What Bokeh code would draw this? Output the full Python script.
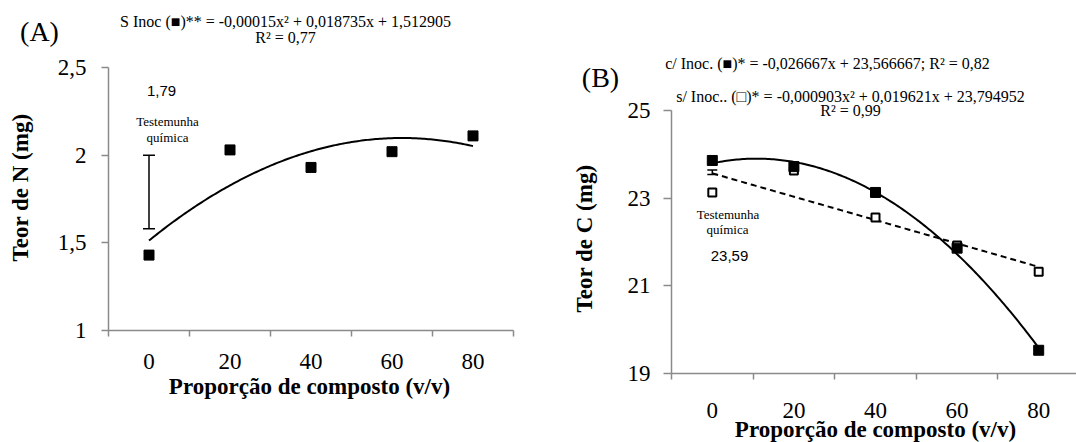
import numpy as np
from math import pi
from bokeh.plotting import figure
from bokeh.layouts import row
from bokeh.models import (Range1d, FixedTicker, CustomJSTickFormatter, Label,
                          Whisker, TeeHead, ColumnDataSource)
from bokeh.embed import file_html
from bokeh.resources import INLINE

# ---------------- data ----------------
doses = [0, 20, 40, 60, 80]
dose_labels = ["0", "20", "40", "60", "80"]

# Panel A - Teor de N (mg)
teor_N = [1.43, 2.03, 1.93, 2.02, 2.11]
testemunha_N = 1.79
testemunha_N_err = 0.21
coef_N = [-0.00015, 0.018735, 1.512905]          # quadratic trend (S Inoc)
yticks_A = [1, 1.5, 2, 2.5]

# Panel B - Teor de C (mg)
teor_C_sem = [23.13, 23.63, 22.56, 21.92, 21.32]  # open squares
teor_C_com = [23.86, 23.72, 23.13, 21.86, 19.53]  # filled squares
testemunha_C = 23.59
testemunha_C_err = 0.05
coef_C_quad = [-0.000903, 0.019621, 23.794952]
coef_C_lin = [-0.026667, 23.566667]
yticks_B = [19, 21, 23, 25]

eq_A = ["S Inoc (\u25A0)** = -0,00015x\u00B2 + 0,018735x + 1,512905", "R\u00B2 = 0,77"]
eq_B1 = "c/ Inoc. (\u25A0)* = -0,026667x + 23,566667; R\u00B2 = 0,82"
eq_B2 = ["s/ Inoc.. (\u25A1)* = -0,000903x\u00B2 + 0,019621x + 23,794952", "R\u00B2 = 0,99"]

SERIF = "Liberation Serif"
SANS = "Liberation Sans"
GREY = "#8a8a8a"

xs = np.linspace(doses[0], doses[-1], 161)
boundaries = [d - 10 for d in doses] + [doses[-1] + 10]


def style(p, yticks, xstand, ystand, ytick_out):
    p.xgrid.visible = False
    p.ygrid.visible = False
    p.outline_line_color = None
    for a in (p.xaxis[0], p.yaxis[0]):
        a.axis_line_color = GREY
        a.axis_line_width = 1.5
        a.major_tick_line_color = GREY
        a.major_tick_line_width = 1.5
        a.minor_tick_line_color = GREY
        a.minor_tick_line_width = 1.5
        a.major_label_text_font = SERIF
        a.major_label_text_font_size = "23px"
        a.major_label_text_color = "black"
    xa = p.xaxis[0]
    xa.ticker = FixedTicker(ticks=doses, minor_ticks=boundaries)
    xa.major_label_overrides = {d: l for d, l in zip(doses, dose_labels)}
    xa.major_tick_in = 0
    xa.major_tick_out = 0
    xa.minor_tick_in = 0
    xa.minor_tick_out = 6
    xa.major_label_standoff = xstand
    ya = p.yaxis[0]
    ya.ticker = FixedTicker(ticks=yticks, minor_ticks=[])
    ya.formatter = CustomJSTickFormatter(code="return String(tick).replace('.', ',');")
    ya.major_tick_in = 0
    ya.major_tick_out = ytick_out
    ya.minor_tick_in = 0
    ya.minor_tick_out = 0
    ya.major_label_standoff = ystand


def lab(p, x, y, text, size, place="center", font=SERIF, fstyle="normal", angle=0.0):
    # x, y: canvas pixels of the figure (origin top-left).  Texts outside the
    # frame go to a side panel that has room for them, so they are not clipped.
    p.add_layout(Label(x=x, y=y, x_units="canvas", y_units="canvas", text=text,
                       text_font=font, text_font_size=f"{size}px",
                       text_font_style=fstyle, text_align="center",
                       text_baseline="middle", angle=angle, text_color="black"),
                 place)


# ---------------- Panel A ----------------
A_L, A_T, A_W, A_H = 108, 67, 405, 263
pA = figure(width=520, height=442, output_backend="svg", toolbar_location=None,
            x_range=Range1d(-10, 90), y_range=Range1d(yticks_A[0], yticks_A[-1]),
            min_border_left=A_L, min_border_right=520 - A_L - A_W,
            min_border_top=A_T, min_border_bottom=442 - A_T - A_H,
            frame_align=False)
style(pA, yticks_A, 17, 15, 7)

pA.line(xs, np.polyval(coef_N, xs), line_color="black", line_width=2)
pA.scatter(doses, teor_N, marker="square", size=10, fill_color="black", line_color="black")
wsrcA = ColumnDataSource(dict(base=[doses[0]], lower=[testemunha_N - testemunha_N_err],
                              upper=[testemunha_N + testemunha_N_err]))
pA.add_layout(Whisker(source=wsrcA, base="base", lower="lower", upper="upper",
                      line_color="black", line_width=1.5,
                      upper_head=TeeHead(size=12, line_color="black", line_width=1.5),
                      lower_head=TeeHead(size=12, line_color="black", line_width=1.5)))

lab(pA, 285, 21, eq_A[0], 16, "above")
lab(pA, 285, 36.5, eq_A[1], 16, "above")
lab(pA, 39, 31, "(A)", 28, "below")
lab(pA, 309, 386, "Proporção de composto (v/v)", 23, "below", fstyle="bold")
lab(pA, 20, 187, "Teor de N (mg)", 23, "left", fstyle="bold", angle=pi / 2)
lab(pA, 161, 90, f"{testemunha_N:.2f}".replace(".", ","), 15, font=SANS)
lab(pA, 167, 121, "Testemunha", 13)
lab(pA, 167, 137, "química", 13)

# ---------------- Panel B ----------------
B_OFF = 520
B_L, B_T, B_W, B_H = 151, 110, 405, 263
B_STEP = 81.6
B_xmax = -10 + B_W * 20 / B_STEP
pB = figure(width=556, height=442, output_backend="svg", toolbar_location=None,
            x_range=Range1d(-10, B_xmax), y_range=Range1d(yticks_B[0], yticks_B[-1]),
            min_border_left=B_L, min_border_right=556 - B_L - B_W,
            min_border_top=B_T, min_border_bottom=442 - B_T - B_H,
            frame_align=False)
style(pB, yticks_B, 23, 13, 8)

pB.line(xs, np.polyval(coef_C_lin, xs), line_color="black", line_width=2, line_dash="6 4")
pB.line(xs, np.polyval(coef_C_quad, xs), line_color="black", line_width=2)
pB.scatter(doses, teor_C_sem, marker="square", size=8, fill_color="white",
           line_color="black", line_width=2)
pB.scatter(doses, teor_C_com, marker="square", size=10, fill_color="black", line_color="black")
wsrcB = ColumnDataSource(dict(base=[doses[0]], lower=[testemunha_C - testemunha_C_err],
                              upper=[testemunha_C + testemunha_C_err]))
pB.add_layout(Whisker(source=wsrcB, base="base", lower="lower", upper="upper",
                      line_color="black", line_width=1.5,
                      upper_head=TeeHead(size=10, line_color="black", line_width=1.5),
                      lower_head=TeeHead(size=10, line_color="black", line_width=1.5)))

lab(pB, 827 - B_OFF, 63, eq_B1, 16, "above")
lab(pB, 850 - B_OFF, 96, eq_B2[0], 16, "above")
lab(pB, 850 - B_OFF, 109.5, eq_B2[1], 16, "above")
lab(pB, 875 - B_OFF, 429, "Proporção de composto (v/v)", 23, "above", fstyle="bold")
lab(pB, 600 - B_OFF, 77, "(B)", 28, "left")
lab(pB, 584 - B_OFF, 238, "Teor de C (mg)", 23, "left", fstyle="bold", angle=pi / 2)
lab(pB, 727.5 - B_OFF, 214, "Testemunha", 13)
lab(pB, 727 - B_OFF, 229, "química", 13)
lab(pB, 729 - B_OFF, 255, f"{testemunha_C:.2f}".replace(".", ","), 15, font=SANS)

layout = row(pA, pB)
open("out.html", "w").write(file_html(layout, INLINE))
